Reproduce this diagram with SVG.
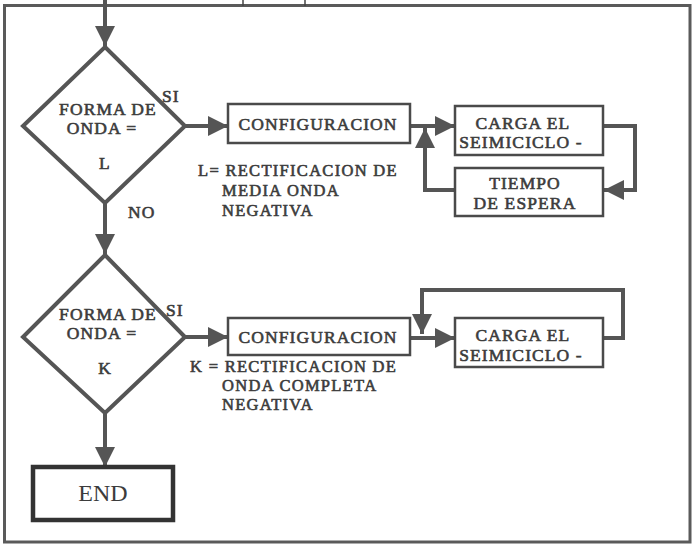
<svg xmlns="http://www.w3.org/2000/svg" width="694" height="544" viewBox="0 0 694 544">
<defs>
<style>
.frame{fill:none;stroke:#5a5a5a;stroke-width:3}
.box{fill:#fff;stroke:#4a4a4a;stroke-width:2.5}
.dia{fill:#fff;stroke:#555;stroke-width:4}
.end{fill:#fff;stroke:#333;stroke-width:4.5}
.con{fill:none;stroke:#555;stroke-width:4}
.t,.l{font-family:"Liberation Serif","Times New Roman",serif;font-size:17.5px;fill:#3c3c3c;stroke:#3c3c3c;stroke-width:0.6;letter-spacing:1.1px}
.t{text-anchor:middle}
.n{font-size:16.5px;letter-spacing:1.3px}
.e{font-family:"Liberation Serif","Times New Roman",serif;font-size:24px;fill:#3c3c3c;text-anchor:middle}
</style>
<marker id="ah" viewBox="0 0 10 10" refX="10" refY="5" markerWidth="5.5" markerHeight="5" markerUnits="strokeWidth" orient="auto">
<path d="M0,0 L10,5 L0,10 z" fill="#555"/>
</marker>
</defs>
<rect width="694" height="544" fill="#fff"/>
<rect class="frame" x="4.5" y="5.5" width="685.5" height="536.5"/>
<line x1="243" y1="0" x2="243" y2="6" stroke="#444" stroke-width="1.5"/>
<line x1="305" y1="0" x2="305" y2="6" stroke="#444" stroke-width="1.5"/>

<g id="connectors">
<line class="con" x1="105" y1="0" x2="105" y2="46" marker-end="url(#ah)"/>
<line class="con" x1="185" y1="126" x2="228" y2="126" marker-end="url(#ah)"/>
<line class="con" x1="410" y1="126" x2="455" y2="126" marker-end="url(#ah)"/>
<polyline class="con" points="603,126 635,126 635,190 604,190" marker-end="url(#ah)"/>
<polyline class="con" points="455,190 425,190 425,128" marker-end="url(#ah)"/>
<line class="con" x1="105" y1="203" x2="105" y2="254" marker-end="url(#ah)"/>
<line class="con" x1="185" y1="337" x2="228" y2="337" marker-end="url(#ah)"/>
<line class="con" x1="410" y1="338" x2="455" y2="338" marker-end="url(#ah)"/>
<polyline class="con" points="603,338 623,338 623,290 422,290 422,334" marker-end="url(#ah)"/>
<line class="con" x1="105" y1="413" x2="105" y2="467" marker-end="url(#ah)"/>
</g>

<g id="dec1">
<polygon class="dia" points="105,47 185,126 105,203 23,126"/>
<text class="t" x="108" y="115">FORMA DE</text>
<text class="t" x="102" y="134">ONDA =</text>
<text class="t" x="105" y="169">L</text>
</g>
<text class="l" x="162" y="102">SI</text>
<text class="l" x="128" y="218">NO</text>

<g id="config1">
<rect class="box" x="228" y="104" width="182" height="39"/>
<text class="t" x="318" y="130">CONFIGURACION</text>
</g>
<g id="note1">
<text class="l n" x="198" y="176">L= RECTIFICACION DE</text>
<text class="l n" x="222" y="196">MEDIA ONDA</text>
<text class="l n" x="222" y="216">NEGATIVA</text>
</g>
<g id="carga1">
<rect class="box" x="455" y="106" width="148" height="49"/>
<text class="t" x="523" y="129">CARGA EL</text>
<text class="t" x="521" y="148">SEIMICICLO -</text>
</g>
<g id="tiempo">
<rect class="box" x="455" y="168" width="148" height="48"/>
<text class="t" x="525" y="189">TIEMPO</text>
<text class="t" x="525" y="209">DE ESPERA</text>
</g>

<g id="dec2">
<polygon class="dia" points="105,255 185,337 105,413 23,337"/>
<text class="t" x="108" y="320">FORMA DE</text>
<text class="t" x="102" y="339">ONDA =</text>
<text class="t" x="105" y="374">K</text>
</g>
<text class="l" x="166" y="316">SI</text>

<g id="config2">
<rect class="box" x="228" y="318" width="182" height="37"/>
<text class="t" x="318" y="343">CONFIGURACION</text>
</g>
<g id="note2">
<text class="l n" x="190" y="372">K = RECTIFICACION DE</text>
<text class="l n" x="222" y="391">ONDA COMPLETA</text>
<text class="l n" x="222" y="410">NEGATIVA</text>
</g>
<g id="carga2">
<rect class="box" x="455" y="318" width="148" height="49"/>
<text class="t" x="523" y="341">CARGA EL</text>
<text class="t" x="521" y="361">SEIMICICLO -</text>
</g>

<g id="end">
<rect class="end" x="33" y="467" width="140" height="53"/>
<text class="e" x="103" y="501">END</text>
</g>
</svg>
